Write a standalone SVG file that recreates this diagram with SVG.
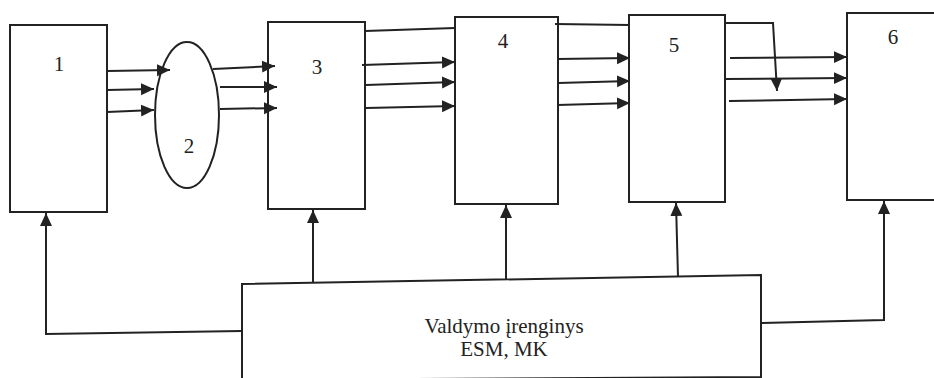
<svg xmlns="http://www.w3.org/2000/svg" width="934" height="378" viewBox="0 0 934 378">
<style>
.box{fill:#fff;stroke:#222;stroke-width:2}
.ln{fill:none;stroke:#222;stroke-width:2}
.lbl{font-family:"Liberation Serif","Times New Roman",serif;font-size:21px;fill:#222;text-anchor:middle}
</style>
<defs>
<marker id="ah" markerUnits="userSpaceOnUse" markerWidth="14" markerHeight="13" viewBox="0 0 14 13" refX="13" refY="6.5" orient="auto">
<path d="M0,0.5 L13,6.5 L0,12.5 z" fill="#222"/>
</marker>
</defs>
<rect width="934" height="378" fill="#fff"/>
<g id="n1"><rect class="box" x="10" y="25" width="97" height="187"/><text class="lbl" x="59" y="71">1</text></g>
<g id="n2"><ellipse class="box" cx="187" cy="115" rx="32" ry="73"/><text class="lbl" x="189" y="153">2</text></g>
<g id="n3"><rect class="box" x="268" y="22" width="97" height="187"/><text class="lbl" x="317" y="74">3</text></g>
<g id="n4"><rect class="box" x="455" y="17" width="103" height="187"/><text class="lbl" x="503" y="48">4</text></g>
<g id="n5"><rect class="box" x="629" y="15" width="96" height="187"/><text class="lbl" x="674" y="52">5</text></g>
<g id="n6"><rect class="box" x="847" y="13" width="100" height="187"/><text class="lbl" x="893" y="44">6</text></g>
<g id="ctrl"><polygon class="box" points="242,284 761,275 761,377 242,380"/>
<text class="lbl" x="504" y="333">Valdymo įrenginys</text>
<text class="lbl" x="504" y="356">ESM, MK</text></g>
<g id="connectors">
<line class="ln" x1="107" y1="71" x2="170" y2="70" marker-end="url(#ah)"/>
<line class="ln" x1="107" y1="90" x2="154" y2="89" marker-end="url(#ah)"/>
<line class="ln" x1="107" y1="112" x2="154" y2="110" marker-end="url(#ah)"/>
<line class="ln" x1="213" y1="69" x2="275" y2="66" marker-end="url(#ah)"/>
<line class="ln" x1="220" y1="87" x2="277" y2="87" marker-end="url(#ah)"/>
<line class="ln" x1="220" y1="109" x2="277" y2="108" marker-end="url(#ah)"/>
<line class="ln" x1="365" y1="31" x2="455" y2="28"/>
<line class="ln" x1="362" y1="65" x2="455" y2="62" marker-end="url(#ah)"/>
<line class="ln" x1="366" y1="85" x2="455" y2="82" marker-end="url(#ah)"/>
<line class="ln" x1="366" y1="108" x2="455" y2="106" marker-end="url(#ah)"/>
<line class="ln" x1="555" y1="24" x2="630" y2="25"/>
<line class="ln" x1="557" y1="59" x2="630" y2="58" marker-end="url(#ah)"/>
<line class="ln" x1="558" y1="83" x2="630" y2="81" marker-end="url(#ah)"/>
<line class="ln" x1="557" y1="105" x2="630" y2="103" marker-end="url(#ah)"/>
<polyline class="ln" points="725,23 773,23 777,91" marker-end="url(#ah)"/>
<line class="ln" x1="730" y1="58" x2="847" y2="57" marker-end="url(#ah)"/>
<line class="ln" x1="725" y1="79" x2="847" y2="78" marker-end="url(#ah)"/>
<line class="ln" x1="729" y1="101" x2="847" y2="99" marker-end="url(#ah)"/>
<polyline class="ln" points="242,331 46,334 46,213" marker-end="url(#ah)"/>
<line class="ln" x1="313" y1="283" x2="313" y2="210" marker-end="url(#ah)"/>
<line class="ln" x1="506" y1="280" x2="506" y2="205" marker-end="url(#ah)"/>
<line class="ln" x1="678" y1="277" x2="676" y2="203" marker-end="url(#ah)"/>
<polyline class="ln" points="761,323 884,320 884,201" marker-end="url(#ah)"/>
</g>
</svg>
